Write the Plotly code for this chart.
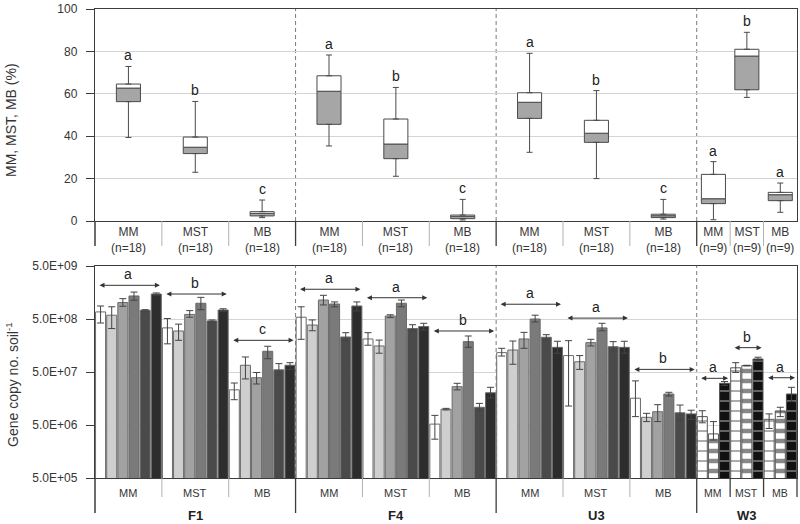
import math
import plotly.graph_objects as go

# ---------------- data ----------------
groups = ["F1", "F4", "U3", "W3"]
categories = ["MM", "MST", "MB"]
n_labels = ["(n=18)", "(n=18)", "(n=18)", "(n=9)"]

# top panel: percentage box plots (order: F1 MM, MST, MB, F4 ..., U3 ..., W3 ...)
box_low = [39.4, 23.0, 1.6, 35.4, 21.1, 0.5, 32.4, 20.0, 0.9, 0.6, 58.3, 4.1]
box_q1 = [56.3, 31.8, 2.4, 45.6, 29.4, 1.1, 48.4, 37.1, 1.6, 8.2, 61.9, 9.6]
box_median = [62.7, 34.8, 3.6, 61.2, 36.3, 2.2, 56.0, 41.4, 2.5, 10.5, 77.8, 12.4]
box_q3 = [64.6, 39.6, 4.4, 68.5, 48.1, 2.8, 60.5, 47.5, 3.2, 22.0, 81.0, 13.5]
box_high = [72.9, 56.4, 9.9, 78.3, 63.0, 10.2, 79.1, 61.5, 10.2, 28.0, 89.0, 17.9]
box_letters = ["a", "b", "c", "a", "b", "c", "a", "b", "c", "a", "b", "a"]

# bottom panel: gene copy numbers, 6 series per category for F1/F4/U3
F1_mean = [[6.8e8, 5.9e8, 1.02e9, 1.36e9, 7.3e8, 1.48e9],
           [3.4e8, 2.97e8, 6.1e8, 9.9e8, 4.6e8, 7.4e8],
           [2.3e7, 6.7e7, 3.9e7, 1.23e8, 5.5e7, 6.7e7]]
F1_hi = [[8.8e8, 8.5e8, 1.21e9, 1.61e9, 7.5e8, 1.55e9],
         [5.1e8, 4.0e8, 7.2e8, 1.28e9, 4.8e8, 7.8e8],
         [3.1e7, 9.6e7, 4.9e7, 1.53e8, 7.2e7, 7.5e7]]
F1_lo = [[4.2e8, 3.3e8, 8.7e8, 1.13e9, 7.1e8, 1.41e9],
         [1.7e8, 1.98e8, 5.4e8, 7.5e8, 4.4e8, 7.0e8],
         [1.5e7, 3.7e7, 2.97e7, 8.9e7, 4.4e7, 5.6e7]]

F4_mean = [[5.4e8, 3.85e8, 1.14e9, 9.6e8, 2.29e8, 8.8e8],
           [2.1e8, 1.55e8, 5.7e8, 9.9e8, 3.3e8, 3.6e8],
           [5.2e6, 9.9e6, 2.64e7, 1.87e8, 1.08e7, 2.03e7]]
F4_hi = [[8.5e8, 4.8e8, 1.4e9, 1.05e9, 2.76e8, 1.05e9],
         [2.76e8, 2.0e8, 6.0e8, 1.14e9, 3.9e8, 4.15e8],
         [7.6e6, 1.03e7, 3.06e7, 2.39e8, 1.28e7, 2.57e7]]
F4_lo = [[2.07e8, 3.0e8, 9.2e8, 8.5e8, 1.95e8, 7.1e8],
         [1.6e8, 1.13e8, 5.3e8, 8.5e8, 3.0e8, 3.1e8],
         [2.7e6, 9.6e6, 2.3e7, 1.46e8, 9.3e6, 1.61e7]]

U3_mean = [[1.16e8, 1.3e8, 2.1e8, 5.0e8, 2.26e8, 1.46e8],
           [1.02e8, 7.8e7, 1.79e8, 3.4e8, 1.5e8, 1.46e8],
           [1.6e7, 6.98e6, 8.9e6, 1.92e7, 8.5e6, 8.1e6]]
U3_hi = [[1.4e8, 1.92e8, 2.8e8, 5.9e8, 2.53e8, 1.9e8],
         [1.95e8, 1.02e8, 2.07e8, 4.15e8, 1.87e8, 1.9e8],
         [3.4e7, 8.3e6, 1.21e7, 2.07e7, 1.19e7, 9.5e6]]
U3_lo = [[1.0e8, 7.0e7, 1.4e8, 4.4e8, 2.0e8, 1.13e8],
         [1.14e7, 5.6e7, 1.55e8, 3.0e8, 1.26e8, 1.13e8],
         [7.2e6, 5.8e6, 5.8e6, 1.76e7, 6.2e6, 6.4e6]]

# W3: 3 series per category
W3_mean = [[7.2e6, 3.4e6, 3.06e7],
           [6.0e7, 6.6e7, 8.8e7],
           [6.4e6, 9.2e6, 1.92e7]]
W3_hi = [[9.3e6, 5.8e6, 3.3e7],
         [7.5e7, 6.7e7, 9.5e7],
         [8.1e6, 1.08e7, 2.57e7]]
W3_lo = [[5.5e6, 2.6e6, 2.8e7],
         [4.9e7, 6.5e7, 8.2e7],
         [4.3e6, 7.2e6, 1.38e7]]

# significance arrows (level on the gene-copy scale) and letters
arrow_levels = [2.16e9, 1.48e9, 1.98e8, 1.82e9, 1.26e9, 2.97e8,
                9.5e8, 5.2e8, 5.6e7, 3.8e7, 1.44e8, 3.9e7]
arrow_letters = ["a", "b", "c", "a", "a", "b", "a", "a", "b", "a", "b", "a"]

y_ticks_bottom = [5e5, 5e6, 5e7, 5e8, 5e9]
y_ticktext_bottom = ["5.0E+05", "5.0E+06", "5.0E+07", "5.0E+08", "5.0E+09"]

# ---------------- layout helpers ----------------
FONT = "Liberation Sans, Arial, sans-serif"
TXT = "#353535"
LINE = "#3c3c3c"
group_cat_width = [1.0, 1.0, 1.0, 0.5]
centers, cwidths, group_centers, group_bounds, cat_group = [], [], [], [], []
pos = 0.0
for gi, gw in enumerate(group_cat_width):
    start = pos
    for c in range(3):
        centers.append(pos + gw * (c + 0.5))
        cwidths.append(gw)
        cat_group.append(gi)
    pos += 3 * gw
    group_centers.append((start + pos) / 2)
    group_bounds.append(pos)
xmax = pos
slot = 1.0 / 6
bar_w = 0.15

W, H = 800, 524
M_L, M_R = 95, 3
H_TOP, H_BOT = 9, 478          # plot area pixel rows
def py(ypix):
    return (H_BOT - ypix) / (H_BOT - H_TOP)
def px(xval):
    return xval / xmax
def ppx(xpix):
    return (xpix - M_L) / (W - M_L - M_R)

fig = go.Figure()

# ---- top panel: two-tone boxes ----
fig.add_trace(go.Bar(x=centers, y=[m - q for m, q in zip(box_median, box_q1)], base=box_q1,
                     width=0.36, marker=dict(color="#a6a6a6", line=dict(color="#4a4a4a", width=1)),
                     xaxis="x", yaxis="y", showlegend=False, hoverinfo="skip"))
fig.add_trace(go.Bar(x=centers, y=[q - m for q, m in zip(box_q3, box_median)], base=box_median,
                     width=0.36, marker=dict(color="#ffffff", line=dict(color="#4a4a4a", width=1)),
                     xaxis="x", yaxis="y", showlegend=False, hoverinfo="skip"))
fig.add_trace(go.Scatter(x=centers, y=box_q3, mode="markers",
                         marker=dict(size=1, color="rgba(0,0,0,0)"),
                         error_y=dict(type="data", symmetric=False,
                                      array=[h - q for h, q in zip(box_high, box_q3)],
                                      arrayminus=[0] * len(centers),
                                      color="#4a4a4a", thickness=1, width=3),
                         xaxis="x", yaxis="y", showlegend=False, hoverinfo="skip"))
fig.add_trace(go.Scatter(x=centers, y=box_q1, mode="markers",
                         marker=dict(size=1, color="rgba(0,0,0,0)"),
                         error_y=dict(type="data", symmetric=False,
                                      array=[0] * len(centers),
                                      arrayminus=[q - l for q, l in zip(box_q1, box_low)],
                                      color="#4a4a4a", thickness=1, width=3),
                         xaxis="x", yaxis="y", showlegend=False, hoverinfo="skip"))

# ---- bottom panel: F groups (6 shades) ----
shades = ["#ffffff", "#cfcfcf", "#a2a2a2", "#7a7a7a", "#4a4a4a", "#2d2d2d"]
F_mean = F1_mean + F4_mean + U3_mean
F_hi = F1_hi + F4_hi + U3_hi
F_lo = F1_lo + F4_lo + U3_lo
for i in range(6):
    xs = [centers[k] + (i - 2.5) * slot for k in range(9)]
    ys = [F_mean[k][i] for k in range(9)]
    fig.add_trace(go.Bar(
        x=xs, y=ys, width=bar_w, xaxis="x2", yaxis="y2", showlegend=False, hoverinfo="skip",
        marker=dict(color=shades[i], line=dict(color="#6a6a6a", width=1)),
        error_y=dict(type="data", symmetric=False,
                     array=[F_hi[k][i] - F_mean[k][i] for k in range(9)],
                     arrayminus=[F_mean[k][i] - F_lo[k][i] for k in range(9)],
                     color="#444444", thickness=1, width=3.5)))

# ---- bottom panel: W3 (patterned) ----
w3_styles = [
    dict(color="#ffffff", pattern=dict(shape="-", fgcolor="#111111", bgcolor="#ffffff", size=10, solidity=0.14)),
    dict(color="#ffffff", pattern=dict(shape="-", fgcolor="#111111", bgcolor="#ffffff", size=10, solidity=0.45)),
    dict(color="#111111", pattern=dict(shape="-", fgcolor="#ffffff", bgcolor="#111111", size=10, solidity=0.14)),
]
for j in range(3):
    xs = [centers[9 + k] + (j - 1) * slot for k in range(3)]
    ys = [W3_mean[k][j] for k in range(3)]
    st = w3_styles[j]
    fig.add_trace(go.Bar(
        x=xs, y=ys, width=bar_w, xaxis="x2", yaxis="y2", showlegend=False, hoverinfo="skip",
        marker=dict(color=st["color"], pattern=st["pattern"], line=dict(color="#555555", width=1)),
        error_y=dict(type="data", symmetric=False,
                     array=[W3_hi[k][j] - W3_mean[k][j] for k in range(3)],
                     arrayminus=[W3_mean[k][j] - W3_lo[k][j] for k in range(3)],
                     color="#444444", thickness=1, width=3.5)))

# ---------------- shapes ----------------
shapes = []
for gb in group_bounds[:-1]:
    for yd in ["y domain", "y2 domain"]:
        shapes.append(dict(type="line", xref="x" if yd == "y domain" else "x2", yref=yd,
                           x0=gb, x1=gb, y0=0, y1=1, layer="below",
                           line=dict(color="#7a7a7a", width=1, dash="4px,3px")))
for k in range(len(centers)):
    b = centers[k] + cwidths[k] / 2
    is_group = any(abs(b - g) < 1e-9 for g in group_bounds)
    is_end = abs(b - xmax) < 1e-9
    narrow = cat_group[k] == len(groups) - 1
    if is_end:
        shapes.append(dict(type="line", xref="paper", yref="paper", x0=1, x1=1,
                           y0=py(478), y1=py(497), line=dict(color=LINE, width=1.3)))
        continue
    col = LINE if (is_group or narrow) else "#b0b0b0"
    wid = 1.3 if (is_group or narrow) else 1
    shapes.append(dict(type="line", xref="paper", yref="paper", x0=px(b), x1=px(b),
                       y0=py(221), y1=py(246), line=dict(color=col if is_group else "#b0b0b0",
                                                         width=1.3 if is_group else 1)))
    shapes.append(dict(type="line", xref="paper", yref="paper", x0=px(b), x1=px(b),
                       y0=py(478), y1=py(513 if is_group else 497),
                       line=dict(color=col, width=wid)))
shapes.append(dict(type="line", xref="paper", yref="paper", x0=0, x1=0, y0=py(221), y1=py(246),
                   line=dict(color=LINE, width=1.5)))
shapes.append(dict(type="line", xref="paper", yref="paper", x0=0, x1=0, y0=py(478), y1=py(513),
                   line=dict(color=LINE, width=1.5)))

# ---------------- annotations ----------------
ann = []
for k in range(len(centers)):
    g = cat_group[k]
    cat = categories[k % 3]
    ann.append(dict(x=centers[k], y=py(240.5), xref="x", yref="paper", showarrow=False,
                    text=f"{cat}<br>{n_labels[g]}", font=dict(family=FONT, size=12, color=TXT),
                    xanchor="center", yanchor="middle"))
    ann.append(dict(x=centers[k], y=py(493), xref="x2", yref="paper", showarrow=False,
                    text=cat, font=dict(family=FONT, size=11 if g < 3 else 10.5, color=TXT),
                    xanchor="center", yanchor="middle"))
    ann.append(dict(x=centers[k], y=box_high[k], xref="x", yref="y", showarrow=False,
                    text=box_letters[k], font=dict(family=FONT, size=14, color="#222222"),
                    xanchor="center", yanchor="bottom", yshift=1))
    cw = cwidths[k]
    lvl = math.log10(arrow_levels[k])
    ann.append(dict(x=centers[k] + cw / 2 - 0.03, y=lvl, ax=centers[k] - cw / 2 + 0.045, ay=lvl,
                    xref="x2", yref="y2", axref="x2", ayref="y2", text="", showarrow=True,
                    arrowhead=2, startarrowhead=2, arrowside="end+start", arrowsize=1,
                    startarrowsize=1, arrowwidth=1, arrowcolor="#333333"))
    ann.append(dict(x=centers[k], y=lvl, xref="x2", yref="y2", showarrow=False,
                    text=arrow_letters[k], font=dict(family=FONT, size=14, color="#222222"),
                    xanchor="center", yanchor="middle", yshift=11))
for g, gc in enumerate(group_centers):
    ann.append(dict(x=gc, y=py(515), xref="x2", yref="paper", showarrow=False,
                    text=f"<b>{groups[g]}</b>", font=dict(family=FONT, size=13, color="#222222"),
                    xanchor="center", yanchor="middle"))
ann.append(dict(x=ppx(11), y=py(120), xref="paper", yref="paper", showarrow=False,
                text="MM, MST, MB (%)", textangle=-90, xanchor="center", yanchor="middle",
                font=dict(family=FONT, size=14, color=TXT)))
ann.append(dict(x=ppx(12), y=py(385), xref="paper", yref="paper", showarrow=False,
                text="Gene copy no. soil<sup>-1</sup>", textangle=-90, xanchor="center",
                yanchor="middle", font=dict(family=FONT, size=14, color=TXT)))

axis_common = dict(showline=True, linecolor=LINE, linewidth=1.4, mirror=True, zeroline=False)

fig.update_layout(
    width=W, height=H,
    margin=dict(l=M_L, r=M_R, t=H_TOP, b=H - H_BOT, pad=0),
    paper_bgcolor="white", plot_bgcolor="white",
    barmode="overlay",
    font=dict(family=FONT, size=12, color=TXT),
    xaxis=dict(domain=[0, 1], range=[0, xmax], anchor="y", showticklabels=False, ticks="",
               showgrid=False, **axis_common),
    yaxis=dict(domain=[py(221), 1], range=[0, 100], anchor="x", tickvals=[0, 20, 40, 60, 80, 100],
               ticks="outside", ticklen=8, tickcolor=LINE, showgrid=True, gridcolor="#d4d4d4",
               ticklabelstandoff=6, tickfont=dict(family=FONT, size=12, color=TXT), **axis_common),
    xaxis2=dict(domain=[0, 1], range=[0, xmax], anchor="y2", showticklabels=False, ticks="",
                showgrid=False, **axis_common),
    yaxis2=dict(domain=[0, py(266)], type="log",
                range=[math.log10(y_ticks_bottom[0]), math.log10(y_ticks_bottom[-1])],
                anchor="x2", tickvals=y_ticks_bottom, ticktext=y_ticktext_bottom,
                ticks="outside", ticklen=8, tickcolor=LINE, showgrid=True, gridcolor="#d4d4d4",
                ticklabelstandoff=6, tickfont=dict(family=FONT, size=12, color=TXT), **axis_common),
    shapes=shapes,
    annotations=ann,
)

fig.write_html("out.html", config={"displayModeBar": False},
               post_script="document.body.style.margin='0';document.body.style.overflow='hidden';")
